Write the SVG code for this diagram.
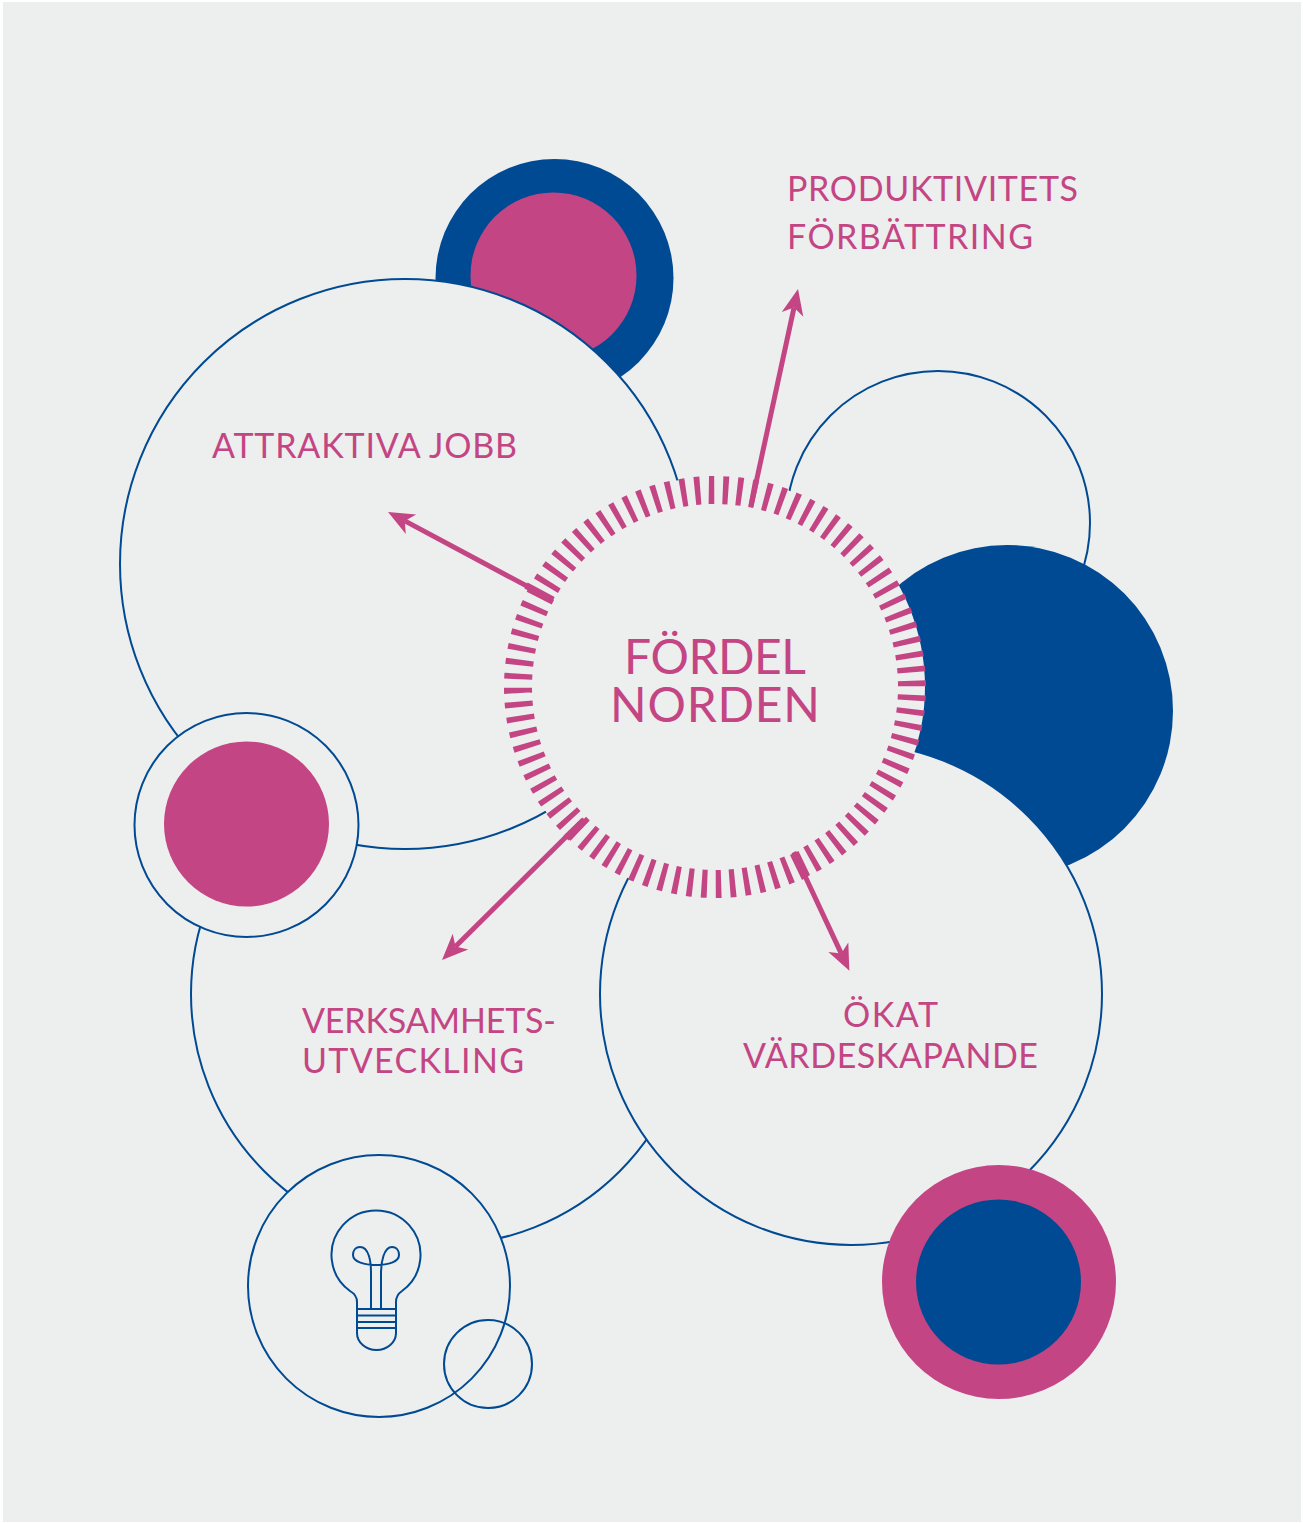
<svg xmlns="http://www.w3.org/2000/svg" width="1303" height="1523" viewBox="0 0 1303 1523">
<style>
.o{fill:#edeeee;stroke:#004a93;stroke-width:2}
.b{fill:#004a93}
.p{fill:#c44583}
.a{fill:none;stroke:#c44583;stroke-width:5}
.k{stroke:#c44583;stroke-width:7}
.t{font-family:"Lato","Noto Sans",sans-serif;fill:#c44583;font-size:34px}
.c{font-size:48px}
.i{fill:none;stroke:#004a93;stroke-width:2}
</style>
<defs>
<marker id="h" markerUnits="userSpaceOnUse" markerWidth="44" markerHeight="28" viewBox="-20 -14 44 28" refX="0" refY="0" orient="auto"><path class="p" d="M0 0L-7 -11L19 0L-7 11Z"/></marker>
</defs>
<rect width="1303" height="1523" fill="#fff"/>
<rect x="3" y="2" width="1298" height="1520" fill="#edeeee"/>
<g id="top-dot"><circle class="b" cx="554.500" cy="278" r="119"/><circle class="p" cx="553.500" cy="275.500" r="83"/></g>
<g id="top-right"><circle class="o" cx="938" cy="523" r="152"/></g>
<g id="right-solid"><circle class="b" cx="1007" cy="711" r="166"/></g>
<g id="lower-left"><circle class="o" cx="442" cy="994" r="251"/></g>
<g id="upper-left"><circle class="o" cx="405" cy="564" r="285"/></g>
<g id="lower-right"><circle class="o" cx="851" cy="994" r="251"/></g>
<g id="left-dot"><circle class="o" cx="246.500" cy="825" r="112"/><circle class="p" cx="246.500" cy="824" r="82.500"/></g>
<g id="bulb-node"><circle class="o" cx="379" cy="1286" r="131"/>
<path class="i" d="M357 1333V1302Q357 1295 350 1291A44.500 44.500 0 1 1 402 1291Q396 1295 396 1302V1333A19.500 17 0 0 1 357 1333Z"/>
<path class="i" d="M357 1309H396M357 1315.500H396M357 1322H396M357 1328H396M371 1309V1272C371 1262 369 1247 360 1247C355 1247 353 1251 353 1255C353 1262 365 1265 376 1265C388 1265 399 1262 399 1255C399 1251 397 1247 392 1247C384 1247 381 1262 381 1272V1309"/>
<circle cx="488" cy="1364" r="44" class="i"/></g>
<g id="bottom-right"><circle class="p" cx="999" cy="1282" r="117"/><circle class="b" cx="998.500" cy="1282" r="82.500"/></g>
<g id="center">
<circle cx="715" cy="687" r="210" fill="#edeeee"/>
<circle cx="715" cy="687" r="197" fill="none" stroke="#c44583" stroke-width="28" pathLength="360" stroke-dasharray="1.6 2.4909" transform="rotate(-91.800 715 687)"/>
<text class="t c" x="624" y="674" textLength="182">FÖRDEL</text>
<text class="t c" x="610" y="722" textLength="210">NORDEN</text>
</g>
<g id="connectors">
<line class="a" x1="751" y1="506" x2="794" y2="307.600" marker-end="url(#h)"/>
<line class="a" x1="553" y1="600" x2="404.800" y2="520.900" marker-end="url(#h)"/>
<line class="k" x1="526" y1="585.500" x2="553" y2="600"/>
<line class="a" x1="583" y1="820" x2="455.500" y2="946.600" marker-end="url(#h)"/>
<line class="k" x1="566" y1="838" x2="585" y2="820"/>
<polygon class="p" points="790,855 798.500,851 810,875 802,880"/>
<line class="a" x1="805" y1="876" x2="841.300" y2="953.600" marker-end="url(#h)"/>
</g>
<g id="labels">
<text class="t" x="787" y="201" textLength="291">PRODUKTIVITETS</text>
<text class="t" x="787" y="249" textLength="246">FÖRBÄTTRING</text>
<text class="t" x="212" y="458" textLength="305">ATTRAKTIVA JOBB</text>
<text class="t" x="302" y="1033" textLength="254">VERKSAMHETS-</text>
<text class="t" x="302" y="1073" textLength="222">UTVECKLING</text>
<text class="t" x="843" y="1027" textLength="95">ÖKAT</text>
<text class="t" x="743" y="1068" textLength="295">VÄRDESKAPANDE</text>
</g>
</svg>
